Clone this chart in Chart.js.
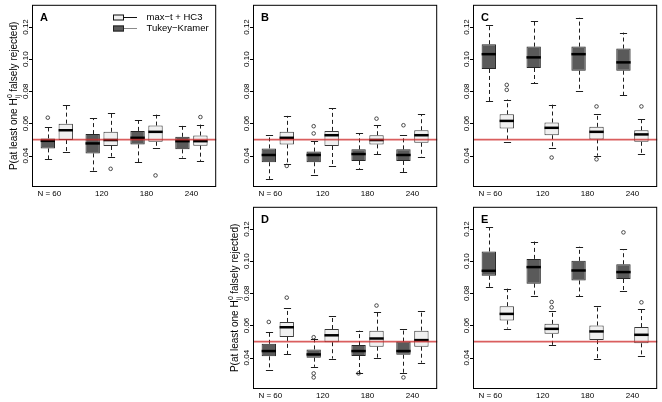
<!DOCTYPE html>
<html><head><meta charset="utf-8">
<script src="https://cdn.jsdelivr.net/npm/chart.js@4.4.1/dist/chart.umd.min.js"></script>
<style>
html,body{margin:0;padding:0;background:#fff;width:662px;height:402px;overflow:hidden;position:relative}
canvas{position:absolute}
</style></head><body>
<canvas id="pA"></canvas><canvas id="pB"></canvas><canvas id="pC"></canvas><canvas id="pD"></canvas><canvas id="pE"></canvas>
<script>
// ---- data: each box = [lower whisker, Q1, median, Q3, upper whisker] ----
const groupLabels = ['60', '120', '180', '240'];
const groupCenters = [1.5, 4, 6.5, 9];
const tukeyPos = [1, 3.5, 6, 8.5];
const hc3Pos = [2, 4.5, 7, 9.5];
const yTicks = [0.04, 0.06, 0.08, 0.10, 0.12];
const nominalAlpha = 0.05;
const seriesNames = ['max\u2212t + HC3', 'Tukey\u2212Kramer'];

const A_tukey = [[0.0377,0.0445,0.0492,0.0507,0.0579],[0.0307,0.0414,0.0476,0.0534,0.0634],[0.0359,0.0470,0.0511,0.0554,0.0620],[0.0388,0.0439,0.0490,0.0517,0.0585]];
const A_tukeyOut = [[0.0636],[],[],[]];
const A_hc3 = [[0.0425,0.0497,0.0558,0.0599,0.0717],[0.0394,0.0460,0.0497,0.0548,0.0667],[0.0449,0.0486,0.0548,0.0587,0.0655],[0.0367,0.0462,0.0490,0.0525,0.0593]];
const A_hc3Out = [[],[0.0318],[0.0277],[0.0640]];

const B_tukey = [[0.0256,0.0359,0.0404,0.0445,0.0527],[0.0281,0.0359,0.0404,0.0425,0.0490],[0.0318,0.0367,0.0410,0.0439,0.0538],[0.0297,0.0367,0.0404,0.0439,0.0527]];
const B_tukeyOut = [[],[0.0583,0.0538],[],[0.0589]];
const B_hc3 = [[0.0348,0.0470,0.0511,0.0548,0.0647],[0.0338,0.0460,0.0527,0.0554,0.0696],[0.0408,0.0470,0.0497,0.0527,0.0589],[0.0390,0.0480,0.0527,0.0558,0.0657]];
const B_hc3Out = [[0.0336],[],[0.0630],[]];

const C_tukey = [[0.0739,0.0939,0.1031,0.1093,0.1210],[0.0850,0.0945,0.1011,0.1078,0.1237],[0.0801,0.0928,0.1031,0.1078,0.1257],[0.0774,0.0928,0.0980,0.1066,0.1165]];
const C_tukeyOut = [[],[],[],[]];
const C_hc3 = [[0.0486,0.0569,0.0616,0.0657,0.0749],[0.0445,0.0527,0.0573,0.0606,0.0717],[0.0400,0.0501,0.0548,0.0579,0.0657],[0.0408,0.0486,0.0532,0.0558,0.0630]];
const C_hc3Out = [[0.0840,0.0809],[0.0388],[0.0706,0.0377],[0.0706]];

const D_tukey = [[0.0322,0.0408,0.0441,0.0486,0.0562],[0.0343,0.0400,0.0420,0.0451,0.0519],[0.0304,0.0410,0.0441,0.0478,0.0568],[0.0302,0.0418,0.0441,0.0500,0.0576]];
const D_tukeyOut = [[0.0622],[0.0527,0.0302,0.0277],[0.0302],[0.0277]];
const D_hc3 = [[0.0420,0.0529,0.0589,0.0622,0.0708],[0.0394,0.0496,0.0539,0.0578,0.0656],[0.0400,0.0468,0.0519,0.0568,0.0681],[0.0369,0.0468,0.0509,0.0568,0.0687]];
const D_hc3Out = [[0.0773],[],[0.0724],[]];

const E_tukey = [[0.0839,0.0909,0.0940,0.1060,0.1210],[0.0781,0.0860,0.0963,0.1014,0.1122],[0.0781,0.0880,0.0942,0.1002,0.1091],[0.0812,0.0889,0.0932,0.0981,0.1074]];
const E_tukeyOut = [[],[],[],[0.1179]];
const E_hc3 = [[0.0581,0.0631,0.0672,0.0720,0.0829],[0.0478,0.0548,0.0579,0.0610,0.0693],[0.0390,0.0509,0.0563,0.0600,0.0720],[0.0410,0.0489,0.0542,0.0590,0.0703]];
const E_hc3Out = [[],[0.0713,0.0746],[],[0.0744]];

// ---- drawing ----
const FONT = '"Liberation Sans", Arial, Helvetica, sans-serif';
const TK_FILL = '#5a5a5a', TK_BORDER = '#262626';
const HC_FILL = '#f0f0f0', HC_BORDER = '#383838';

function outPoints(outs, pos) {
  const pts = [];
  outs.forEach((arr, i) => arr.forEach(v => pts.push({x: pos[i], y: v})));
  return pts;
}

function drawYTitle(ctx, cx, cy) {
  ctx.save();
  ctx.translate(cx, cy); ctx.rotate(-Math.PI / 2);
  const big = '10px ' + FONT, small = '7px ' + FONT;
  const p1 = 'P(at least one H', p2 = ' falsely rejected)';
  ctx.font = big; const w1 = ctx.measureText(p1).width, w3 = ctx.measureText(p2).width;
  ctx.font = small; const w2 = Math.max(ctx.measureText('0').width, ctx.measureText('ij').width);
  const x0 = -(w1 + w2 + w3) / 2;
  ctx.fillStyle = '#000'; ctx.textBaseline = 'alphabetic'; ctx.textAlign = 'left';
  ctx.font = big; ctx.fillText(p1, x0, 0);
  ctx.font = small; ctx.fillText('0', x0 + w1 + 0.3, -4.8); ctx.fillText('ij', x0 + w1 + 0.3, 2.6);
  ctx.font = big; ctx.fillText(p2, x0 + w1 + w2, 0);
  ctx.restore();
}

const boxPlugin = {
  id: 'boxDecor',
  beforeDatasetsDraw(chart) {
    const ctx = chart.ctx, ys = chart.scales.y, ca = chart.chartArea;
    const st = chart.options.plugins.boxDecor;
    ctx.save();
    ctx.beginPath(); ctx.rect(ca.left, ca.top, ca.width, ca.height); ctx.clip();
    [0, 1].forEach(di => {
      const meta = chart.getDatasetMeta(di);
      const stats = st.stats[di];
      meta.data.forEach((bar, i) => {
        const s = stats[i];
        const x = Math.round(bar.x) + 0.5;
        const cap = bar.width * 0.25;
        ctx.strokeStyle = '#1e1e1e'; ctx.lineWidth = 1;
        ctx.setLineDash([4, 3]);
        ctx.beginPath();
        ctx.moveTo(x, ys.getPixelForValue(s[3])); ctx.lineTo(x, ys.getPixelForValue(s[4]));
        ctx.stroke();
        ctx.beginPath();
        ctx.moveTo(x, ys.getPixelForValue(s[1])); ctx.lineTo(x, ys.getPixelForValue(s[0]));
        ctx.stroke();
        ctx.setLineDash([]);
        const yh = Math.round(ys.getPixelForValue(s[4])) + 0.5;
        const yl = Math.round(ys.getPixelForValue(s[0])) + 0.5;
        ctx.beginPath();
        ctx.moveTo(x - cap, yh); ctx.lineTo(x + cap, yh);
        ctx.moveTo(x - cap, yl); ctx.lineTo(x + cap, yl);
        ctx.stroke();
      });
    });
    ctx.restore();
  },
  afterDatasetsDraw(chart) {
    const ctx = chart.ctx, xs = chart.scales.x, ys = chart.scales.y, ca = chart.chartArea;
    const st = chart.options.plugins.boxDecor;
    ctx.save();
    // medians
    [0, 1].forEach(di => {
      const meta = chart.getDatasetMeta(di);
      meta.data.forEach((bar, i) => {
        const y = ys.getPixelForValue(st.stats[di][i][2]);
        ctx.strokeStyle = '#000'; ctx.lineWidth = 2.5; ctx.lineCap = 'butt';
        ctx.beginPath(); ctx.moveTo(bar.x - bar.width / 2, y); ctx.lineTo(bar.x + bar.width / 2, y); ctx.stroke();
      });
    });
    // nominal level line
    const yr = ys.getPixelForValue(nominalAlpha);
    ctx.strokeStyle = 'rgba(205,40,40,0.75)'; ctx.lineWidth = 1.8;
    ctx.beginPath(); ctx.moveTo(ca.left, yr); ctx.lineTo(ca.right, yr); ctx.stroke();
    // frame
    ctx.strokeStyle = '#000'; ctx.lineWidth = 1;
    ctx.strokeRect(ca.left + 0.5, ca.top + 0.5, ca.width - 1, ca.height - 1);
    // y ticks + labels
    ctx.fillStyle = '#000';
    ctx.font = '8px ' + FONT;
    yTicks.forEach(v => {
      const y = Math.round(ys.getPixelForValue(v)) + 0.5;
      ctx.beginPath(); ctx.moveTo(ca.left - 3, y); ctx.lineTo(ca.left, y); ctx.stroke();
      ctx.save();
      ctx.translate(ca.left - 4, ys.getPixelForValue(v)); ctx.rotate(-Math.PI / 2);
      ctx.textAlign = 'center'; ctx.textBaseline = 'alphabetic';
      ctx.fillText(v.toFixed(2), 0, 0);
      ctx.restore();
    });
    // x labels
    ctx.textBaseline = 'alphabetic';
    groupCenters.forEach((c, i) => {
      const px = xs.getPixelForValue(c);
      const yy = ca.bottom + 9;
      ctx.textAlign = 'center';
      ctx.fillText(groupLabels[i], px, yy);
      if (i === 0) {
        const w = ctx.measureText(groupLabels[i]).width;
        ctx.textAlign = 'right';
        ctx.fillText('N = ', px - w / 2, yy);
      }
    });
    // panel letter
    ctx.font = 'bold 11px ' + FONT; ctx.textAlign = 'left';
    ctx.fillText(st.letter, ca.left + 8, ca.top + 16);
    // y title
    if (st.yTitle) drawYTitle(ctx, 17, (ca.top + ca.bottom) / 2);
    // legend
    if (st.legend) {
      const rows = [
        {y: ca.top + 12, fill: HC_FILL, border: '#111', line: '#111', text: seriesNames[0]},
        {y: ca.top + 23.5, fill: TK_FILL, border: '#222', line: '#8a8a8a', text: seriesNames[1]}
      ];
      const bx = ca.left + 81;
      rows.forEach(r => {
        ctx.strokeStyle = r.line; ctx.lineWidth = 1;
        ctx.beginPath(); ctx.moveTo(bx + 11, Math.round(r.y) + 0.5); ctx.lineTo(bx + 24, Math.round(r.y) + 0.5); ctx.stroke();
        ctx.fillStyle = r.fill; ctx.fillRect(bx, Math.round(r.y) - 2.5, 11, 6);
        ctx.strokeStyle = r.border; ctx.strokeRect(bx + 0.5, Math.round(r.y) - 2, 10, 5);
        ctx.fillStyle = '#000'; ctx.font = '9.5px ' + FONT; ctx.textAlign = 'left'; ctx.textBaseline = 'middle';
        ctx.fillText(r.text, bx + 33.5, r.y + 0.5);
      });
    }
    ctx.restore();
  }
};

function makePanel(id, left, top, h, letter, tk, tkOut, hc, hcOut, extra) {
  const cv = document.getElementById(id);
  cv.width = 221; cv.height = h;
  cv.style.left = left + 'px'; cv.style.top = top + 'px';
  cv.style.width = '221px'; cv.style.height = h + 'px';
  const outStyle = {pointRadius: 1.8, pointBorderColor: '#222', pointBackgroundColor: 'rgba(0,0,0,0)', pointBorderWidth: 0.8, showLine: false};
  new Chart(cv, {
    type: 'bar',
    data: {
      datasets: [
        {type: 'bar', label: seriesNames[1], data: tk.map((s, i) => ({x: tukeyPos[i], y: [s[1], s[3]]})),
         backgroundColor: TK_FILL, borderColor: TK_BORDER, borderWidth: 1, borderSkipped: false,
         grouped: false, categoryPercentage: 1, barPercentage: 0.8},
        {type: 'bar', label: seriesNames[0], data: hc.map((s, i) => ({x: hc3Pos[i], y: [s[1], s[3]]})),
         backgroundColor: HC_FILL, borderColor: HC_BORDER, borderWidth: 1, borderSkipped: false,
         grouped: false, categoryPercentage: 1, barPercentage: 0.8},
        Object.assign({type: 'scatter', data: outPoints(tkOut, tukeyPos)}, outStyle),
        Object.assign({type: 'scatter', data: outPoints(hcOut, hc3Pos)}, outStyle)
      ]
    },
    options: {
      responsive: false, animation: false, devicePixelRatio: 1, events: [],
      layout: {padding: {left: 32, top: 3, right: 4, bottom: h - 187}},
      scales: {
        x: {type: 'linear', min: 0.12, max: 10.38, offset: false, bounds: 'data', display: false,
            afterBuildTicks: s => { s.ticks = groupCenters.map(v => ({value: v})); }},
        y: {type: 'linear', min: 0.0205, max: 0.1338, beginAtZero: false, bounds: 'data', display: false,
            afterBuildTicks: s => { s.ticks = yTicks.map(v => ({value: v})); }}
      },
      plugins: {
        legend: {display: false}, tooltip: {enabled: false},
        boxDecor: Object.assign({letter: letter, stats: [tk, hc]}, extra)
      }
    },
    plugins: [boxPlugin]
  });
}

makePanel('pA', 0, 0, 201, 'A', A_tukey, A_tukeyOut, A_hc3, A_hc3Out, {yTitle: true, legend: true});
makePanel('pB', 221, 0, 201, 'B', B_tukey, B_tukeyOut, B_hc3, B_hc3Out, {});
makePanel('pC', 441, 0, 201, 'C', C_tukey, C_tukeyOut, C_hc3, C_hc3Out, {});
makePanel('pD', 221, 202, 200, 'D', D_tukey, D_tukeyOut, D_hc3, D_hc3Out, {yTitle: true});
makePanel('pE', 441, 202, 200, 'E', E_tukey, E_tukeyOut, E_hc3, E_hc3Out, {});
</script></body></html>
